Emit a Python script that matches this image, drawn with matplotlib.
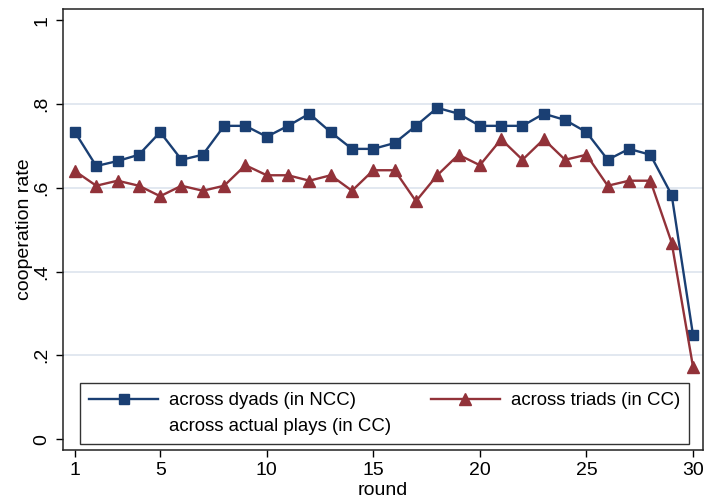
import matplotlib
matplotlib.use("Agg")
import matplotlib.pyplot as plt
from matplotlib.lines import Line2D

# ----------------------------------------------------------------------------
# dados
# ----------------------------------------------------------------------------
rodadas = list(range(1, 31))

diades_ncc = [0.733, 0.652, 0.664, 0.679, 0.733, 0.667, 0.679, 0.748, 0.748, 0.722,
              0.748, 0.777, 0.733, 0.693, 0.693, 0.707, 0.748, 0.791, 0.777, 0.748,
              0.748, 0.748, 0.777, 0.762, 0.733, 0.667, 0.693, 0.679, 0.583, 0.249]

triades_cc = [0.640, 0.605, 0.617, 0.605, 0.580, 0.605, 0.593, 0.605, 0.654, 0.630,
              0.630, 0.617, 0.630, 0.593, 0.642, 0.642, 0.568, 0.630, 0.679, 0.654,
              0.716, 0.667, 0.716, 0.667, 0.679, 0.605, 0.617, 0.617, 0.469, 0.173]

xticks = [1, 5, 10, 15, 20, 25, 30]
yticks = [0, 0.2, 0.4, 0.6, 0.8, 1.0]
ytick_labels = ['0', '.2', '.4', '.6', '.8', '1']

rotulos = ['across dyads (in NCC)', 'across actual plays (in CC)', 'across triads (in CC)']

AZUL = '#1a3f73'
VINHO = '#923239'
GRADE = '#dfe6ef'

plt.rcParams['font.family'] = ['Liberation Sans', 'DejaVu Sans']

fig = plt.figure(figsize=(7.06, 5.01), dpi=100)
ax = fig.add_axes([63 / 706, 51 / 501, 640 / 706, 441 / 501])

# linhas de grade horizontais
for y in [0.2, 0.4, 0.6, 0.8]:
    ax.axhline(y, color=GRADE, lw=1.3, zorder=0)

l1, = ax.plot(rodadas, diades_ncc, color=AZUL, lw=1.7, marker='s', ms=7.8,
              markeredgecolor=AZUL, zorder=3)
l2, = ax.plot(rodadas, triades_cc, color=VINHO, lw=1.7, marker='^', ms=8.8,
              markeredgecolor=VINHO, zorder=3)
vazio = Line2D([], [], linestyle='none', marker=None)

ax.set_xlim(0.44, 30.47)
ax.set_ylim(-0.026, 1.027)
ax.set_xticks(xticks)
ax.set_yticks(yticks)
ax.set_yticklabels(ytick_labels, rotation=90, va='center')
ax.tick_params(axis='both', labelsize=14, length=5, width=1, direction='out')
ax.tick_params(axis='y', pad=4)
ax.set_xlabel('round', fontsize=14, labelpad=2.5)
ax.set_ylabel('cooperation rate', fontsize=14, labelpad=0.5)

for s in ax.spines.values():
    s.set_color('#222222')
    s.set_linewidth(1.1)

leg = ax.legend([l1, vazio, l2], rotulos, ncol=2, loc='lower left',
                bbox_to_anchor=(0.0266, 0.0136, 0.952, 0.138), mode='expand',
                fontsize=13.4, handlelength=3.7, handletextpad=0.6,
                borderaxespad=0, fancybox=False, framealpha=1,
                edgecolor='#333333', borderpad=0.5, labelspacing=0.45)
leg.get_frame().set_linewidth(1.0)

fig.savefig('out.png', dpi=100)
